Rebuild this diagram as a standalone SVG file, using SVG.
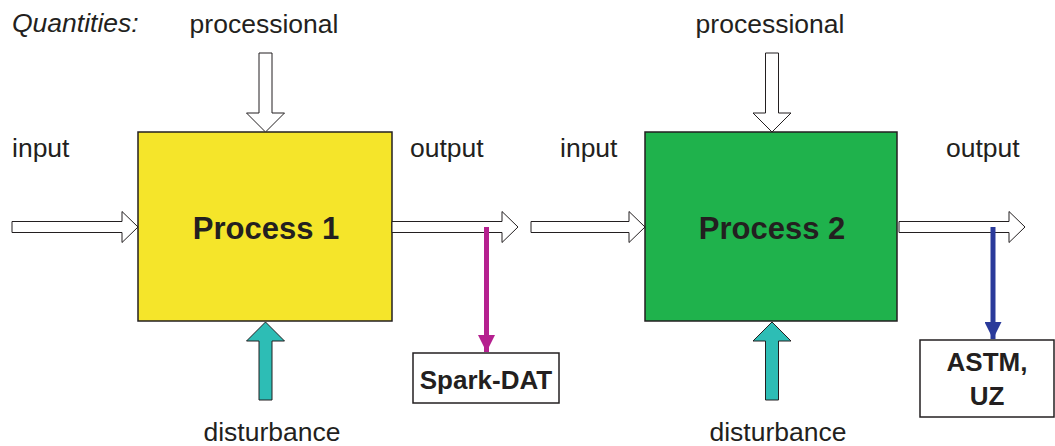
<svg xmlns="http://www.w3.org/2000/svg" width="1055" height="446" viewBox="0 0 1055 446">
  <defs>
    <style>
      .lbl { font-family: "Liberation Sans", Arial, sans-serif; font-size: 26.5px; fill: #231f20; }
      .ital { font-style: italic; }
      .title { font-family: "Liberation Sans", Arial, sans-serif; font-size: 31px; font-weight: bold; fill: #231f20; text-anchor: middle; }
      .tag { font-family: "Liberation Sans", Arial, sans-serif; font-size: 26px; font-weight: bold; fill: #231f20; text-anchor: middle; }
      .proc { stroke: #231f20; stroke-width: 1.5; }
      .hollow { fill: #ffffff; stroke: #231f20; stroke-width: 1; stroke-linejoin: miter; }
      .dist { fill: #2dbdb5; stroke: #231f20; stroke-width: 1; }
      .outbox { fill: #ffffff; stroke: #231f20; stroke-width: 1.5; }
    </style>
    <!-- block arrow pointing right, tip at origin -->
    <path id="arrowRight" d="M0,0 L-16,-15.5 L-16,-5.5 L-126,-5.5 L-126,5.5 L-16,5.5 L-16,15.5 Z"/>
    <!-- shorter right arrow feeding the second stage -->
    <path id="arrowRightShort" d="M0,0 L-16,-15.5 L-16,-5.5 L-114,-5.5 L-114,5.5 L-16,5.5 L-16,15.5 Z"/>
    <!-- block arrow pointing down, tip at origin -->
    <path id="arrowDown" d="M0,0 L-19,-19 L-6.5,-19 L-6.5,-79 L6.5,-79 L6.5,-19 L19,-19 Z"/>
    <!-- block arrow pointing up, tip at origin -->
    <path id="arrowUp" d="M0,0 L-19,19 L-6.5,19 L-6.5,78 L6.5,78 L6.5,19 L19,19 Z"/>
    <marker id="headMagenta" viewBox="0 0 10 10" refX="10" refY="5" markerWidth="3.4" markerHeight="3.4" markerUnits="strokeWidth" orient="auto">
      <path d="M0,0 L10,5 L0,10 Z" fill="#b5208f"/>
    </marker>
    <marker id="headBlue" viewBox="0 0 10 10" refX="10" refY="5" markerWidth="3.4" markerHeight="3.4" markerUnits="strokeWidth" orient="auto">
      <path d="M0,0 L10,5 L0,10 Z" fill="#2a3a9a"/>
    </marker>
  </defs>

  <rect width="1055" height="446" fill="#ffffff"/>

  <text class="lbl ital" x="12" y="32">Quantities:</text>

  <!-- stage 1 -->
  <g id="process1">
    <rect class="proc" x="138" y="132" width="254" height="189" fill="#f5e52a"/>
    <text class="title" x="266" y="239">Process 1</text>
  </g>
  <g id="labels1">
    <text class="lbl" x="264" y="33" text-anchor="middle">processional</text>
    <text class="lbl" x="12" y="157">input</text>
    <text class="lbl" x="410" y="157">output</text>
    <text class="lbl" x="272" y="441" text-anchor="middle">disturbance</text>
  </g>
  <g id="sparkDat">
    <rect class="outbox" x="413" y="353" width="146" height="50"/>
    <text class="tag" x="486" y="389">Spark-DAT</text>
  </g>

  <!-- stage 2 -->
  <g id="process2">
    <rect class="proc" x="645" y="132" width="252" height="189" fill="#1fb24c"/>
    <text class="title" x="772" y="239">Process 2</text>
  </g>
  <g id="labels2">
    <text class="lbl" x="770" y="33" text-anchor="middle">processional</text>
    <text class="lbl" x="560" y="157">input</text>
    <text class="lbl" x="946" y="157">output</text>
    <text class="lbl" x="778" y="441" text-anchor="middle">disturbance</text>
  </g>
  <g id="astmUz">
    <rect class="outbox" x="920" y="340" width="134" height="77"/>
    <text class="tag" x="987" y="371">ASTM,</text>
    <text class="tag" x="987" y="405">UZ</text>
  </g>

  <!-- connectors -->
  <g id="connectors">
    <use href="#arrowDown" class="hollow" x="265.5" y="132"/>
    <use href="#arrowRight" class="hollow" x="138" y="227"/>
    <use href="#arrowRight" class="hollow" x="518" y="227"/>
    <use href="#arrowUp" class="dist" x="265.5" y="322"/>

    <use href="#arrowDown" class="hollow" x="772" y="132"/>
    <use href="#arrowRightShort" class="hollow" x="645" y="227"/>
    <use href="#arrowRight" class="hollow" x="1025" y="227"/>
    <use href="#arrowUp" class="dist" x="772" y="322"/>

    <line x1="486.5" y1="227" x2="486.5" y2="352" stroke="#b5208f" stroke-width="5" marker-end="url(#headMagenta)"/>
    <line x1="993" y1="227" x2="993" y2="339" stroke="#2a3a9a" stroke-width="5" marker-end="url(#headBlue)"/>
  </g>
</svg>
